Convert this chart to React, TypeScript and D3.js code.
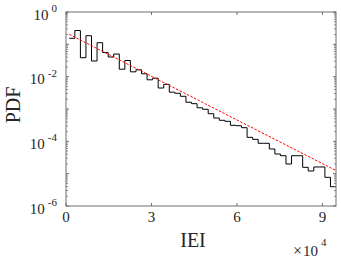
import * as d3 from "d3";

// histogram of inter-event intervals (PDF, log scale)
const BIN_START = 1150;
const BIN_WIDTH = 1950;
const pdfValues = [
  0.1536, 0.2678, 0.0386, 0.1849, 0.0305, 0.1123, 0.0559, 0.0406, 0.0502, 0.017,
  0.0316, 0.0141, 0.0163, 0.0123, 0.008, 0.00897, 0.00446, 0.0058, 0.00331, 0.00306,
  0.00247, 0.00162, 0.00146, 0.00109, 0.00098, 0.000715, 0.000526, 0.000447, 0.000416, 0.000313,
  0.000304, 0.000264, 0.000133, 0.000115, 8.7e-5, 8.7e-5, 5.8e-5, 4.05e-5, 3.59e-5, 1.99e-5,
  3.59e-5, 3.59e-5, 1.57e-5, 1.21e-5, 1.61e-5, 1.61e-5, 7.7e-6, 3.95e-6,
];

// exponential fit (straight on log axis)
const fitX = [1150, 94750];
const fitY = [0.204, 1.25e-5];

const xTicks = [0, 30000, 60000, 90000];
const xTickLabels = ["0", "3", "6", "9"];
const yDecades = [0, -2, -4, -6];

const W = 341;
const H = 259;
const FONT = "'Liberation Serif', 'Times New Roman', serif";
const AXIS = "#707070";

export default function App() {
  const x = d3.scaleLinear().domain([0, 94750]).range([66, 336]);
  const y = d3.scaleLog().domain([1e-6, 1]).range([206, 12]);
  const [x0, x1] = x.range();
  const [yb, yt] = y.range();

  const pts: [number, number][] = pdfValues.map((v, i) => [BIN_START + i * BIN_WIDTH, v]);
  pts.push([BIN_START + pdfValues.length * BIN_WIDTH, pdfValues[pdfValues.length - 1]]);
  const stairs = d3
    .line<[number, number]>()
    .x((d) => x(d[0]))
    .y((d) => y(d[1]))
    .curve(d3.curveStepAfter)(pts);

  const fitLine = d3
    .line<number>()
    .x((d) => x(d))
    .y((_, i) => y(fitY[i]))(fitX);

  // log minor ticks
  const minor: number[] = [];
  for (let e = -6; e < 0; e++) {
    for (let k = 2; k <= 9; k++) minor.push(k * Math.pow(10, e));
  }
  const majors = d3.range(-6, 1).map((e) => Math.pow(10, e));

  return (
    <div style={{ position: "fixed", left: 0, top: 0 }}>
      <svg width={W} height={H} style={{ display: "block", background: "#fff" }}>
        <g clipPath="url(#plot)">
          <defs>
            <clipPath id="plot">
              <rect x={x0} y={yt} width={x1 - x0} height={yb - yt} />
            </clipPath>
          </defs>
          <path d={stairs ?? ""} fill="none" stroke="#000" strokeWidth={1} />
          <path
            d={fitLine ?? ""}
            fill="none"
            stroke="#ff0000"
            strokeWidth={1}
            strokeDasharray="2.5,1.5"
          />
        </g>

        {/* box */}
        <rect
          x={x0}
          y={yt}
          width={x1 - x0}
          height={yb - yt}
          fill="none"
          stroke={AXIS}
          strokeWidth={1}
        />

        {/* x ticks bottom/top */}
        {xTicks.map((t) => (
          <g key={t}>
            <line x1={x(t)} x2={x(t)} y1={yb} y2={yb - 3} stroke={AXIS} />
            <line x1={x(t)} x2={x(t)} y1={yt} y2={yt + 3} stroke={AXIS} />
          </g>
        ))}

        {/* y ticks left/right */}
        {majors.map((v) => (
          <g key={v}>
            <line x1={x0} x2={x0 + 3} y1={y(v)} y2={y(v)} stroke={AXIS} />
            <line x1={x1} x2={x1 - 3} y1={y(v)} y2={y(v)} stroke={AXIS} />
          </g>
        ))}
        {minor.map((v) => (
          <g key={v}>
            <line x1={x0} x2={x0 + 2} y1={y(v)} y2={y(v)} stroke={AXIS} strokeWidth={0.8} />
            <line x1={x1} x2={x1 - 2} y1={y(v)} y2={y(v)} stroke={AXIS} strokeWidth={0.8} />
          </g>
        ))}

        {/* x tick labels */}
        {xTicks.map((t, i) => (
          <text
            key={t}
            x={x(t)}
            y={221.5}
            textAnchor="middle"
            fontFamily={FONT}
            fontSize={15}
            fill="#262626"
          >
            {xTickLabels[i]}
          </text>
        ))}

        {/* y tick labels */}
        {yDecades.map((e) => (
          <text
            key={e}
            x={57}
            y={y(Math.pow(10, e)) + 7.5}
            textAnchor="end"
            fontFamily={FONT}
            fontSize={15}
            fill="#262626"
          >
            <tspan>10</tspan>
            <tspan dx={3} dy={-7.5} fontSize={11}>
              {String(e)}
            </tspan>
          </text>
        ))}

        {/* exponent multiplier */}
        <text x={293} y={255.5} fontFamily={FONT} fontSize={15} fill="#262626">
          <tspan fontSize={16}>{"\u00d7"}</tspan>
          <tspan dx={1}>10</tspan>
          <tspan dx={3} dy={-10} fontSize={11}>
            4
          </tspan>
        </text>

        {/* axis labels */}
        <text
          x={193}
          y={246.5}
          textAnchor="middle"
          fontFamily={FONT}
          fontSize={20}
          fill="#262626"
        >
          IEI
        </text>
        <text
          transform={`translate(20,105) rotate(-90)`}
          textAnchor="middle"
          fontFamily={FONT}
          fontSize={20}
          fill="#262626"
        >
          PDF
        </text>
      </svg>
    </div>
  );
}
